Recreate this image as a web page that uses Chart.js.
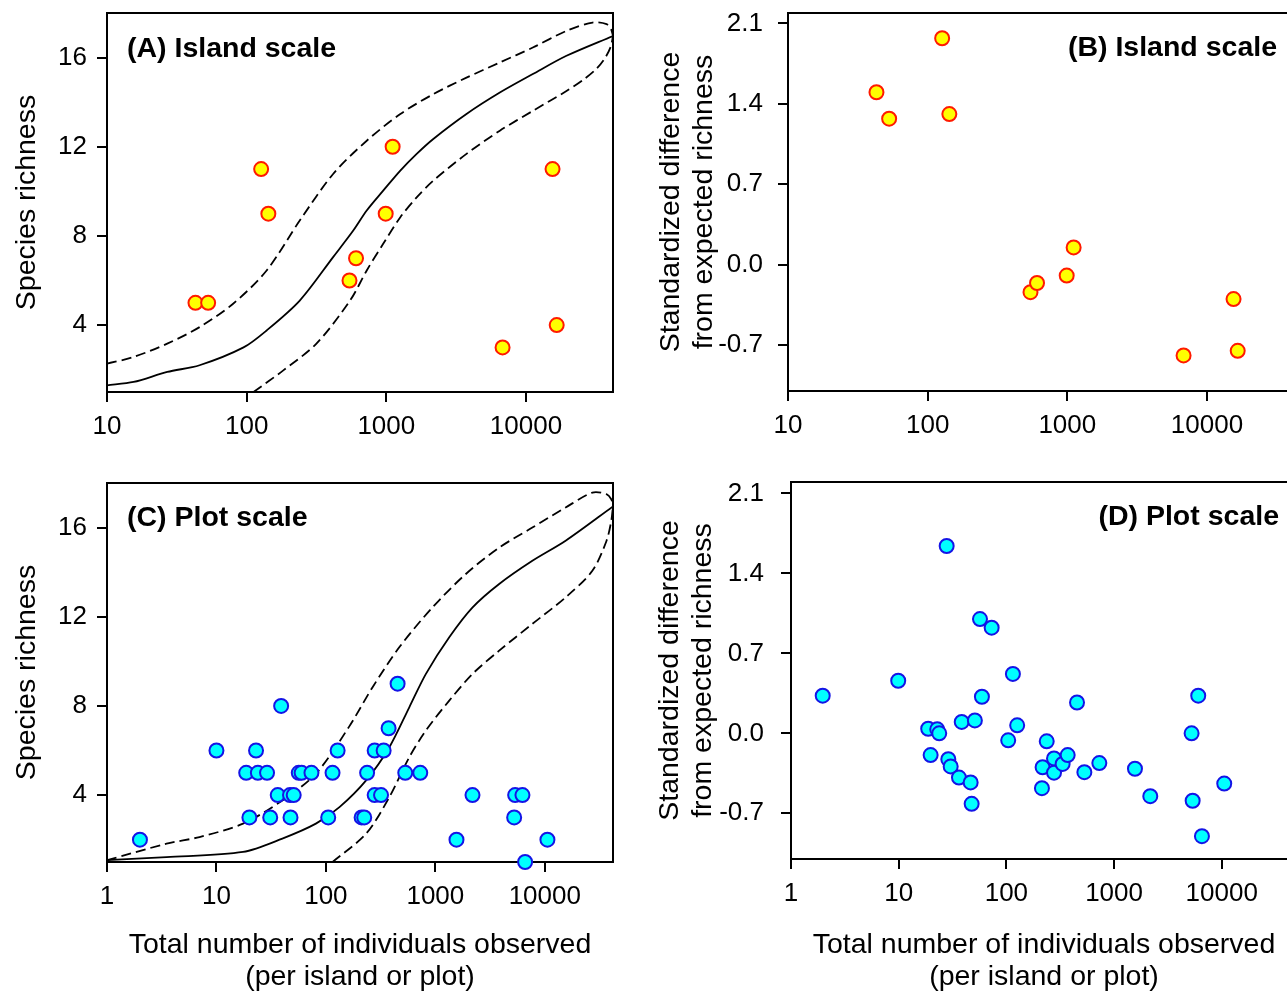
<!DOCTYPE html>
<html>
<head>
<meta charset="utf-8">
<script src="https://cdn.jsdelivr.net/npm/chart.js@4.4.1/dist/chart.umd.min.js"></script>
<style>
  html, body { margin: 0; padding: 0; background: #fff; overflow: hidden; width: 1287px; height: 994px; }
  canvas { position: absolute; }
</style>
</head>
<body>
<canvas id="chart-a" width="640" height="470" style="left:0;top:0"></canvas>
<canvas id="chart-b" width="700" height="470" style="left:640px;top:0"></canvas>
<canvas id="chart-c" width="640" height="524" style="left:0;top:470px"></canvas>
<canvas id="chart-d" width="700" height="524" style="left:640px;top:470px"></canvas>
<script>
// Island scale observations (panels A and B)
const islandN = [43, 53, 127, 143, 545, 607, 990, 1110, 6800, 15500, 16600];
const islandRichness = [5, 5, 11, 9, 6, 7, 9, 12, 3, 11, 4];
const islandStdDiff = [1.5, 1.27, 1.97, 1.31, -0.24, -0.16, -0.095, 0.15, -0.79, -0.3, -0.75];

// Island scale rarefaction curve and 95% limits
const islandCurveN = [10, 15.5, 27, 46, 95, 139, 240, 416, 580, 724, 950, 1260, 1650, 2170, 3750, 6500, 11200, 19500, 42000];
const islandCurve = [1.3, 1.45, 1.9, 2.2, 3.0, 3.76, 5.1, 7.05, 8.24, 9.14, 10.03, 10.93, 11.68, 12.35, 13.47, 14.43, 15.26, 16.08, 16.97];
const islandUpperN = [10, 15.5, 27, 46, 80, 139, 240, 416, 724, 1260, 2170, 3750, 6500, 11200, 19500, 30000, 37800, 40700, 42000];
const islandUpper = [2.27, 2.57, 3.17, 3.91, 4.96, 6.45, 8.69, 10.78, 12.27, 13.47, 14.36, 15.1, 15.78, 16.45, 17.2, 17.57, 17.5, 17.27, 16.97];
const islandLowerN = [112, 183, 316, 550, 724, 950, 1260, 1650, 2170, 3750, 6500, 11200, 19500, 25700, 32000, 37000, 40500, 42000];
const islandLower = [1.0, 1.97, 3.17, 5.1, 6.45, 7.65, 8.84, 9.73, 10.48, 11.68, 12.72, 13.61, 14.5, 15.0, 15.5, 16.0, 16.5, 16.97];

// Plot scale observations (panel C)
const plotN = [2, 10, 18.7, 20, 23, 23.9, 29, 31, 36.3, 39, 47, 47.5, 50.8, 56.5, 60, 73.8, 105, 115, 128, 212, 224, 238, 279, 279, 319, 337, 374, 452, 531, 728, 1560, 2185, 5250, 5360, 6250, 6610, 10570];
const plotRichness = [2, 6, 5, 3, 6, 5, 5, 3, 4, 8, 4, 3, 4, 5, 5, 5, 3, 5, 6, 3, 3, 5, 6, 4, 4, 6, 7, 9, 5, 5, 2, 4, 3, 4, 4, 1, 2];

// Plot scale standardized differences (panel D)
const plotDiffN = [1.97, 9.9, 18.8, 19.8, 22.8, 23.8, 27.9, 28.9, 30.4, 36.3, 38.5, 46.6, 47.6, 51, 56.9, 59.3, 73, 104, 115, 126, 214, 217, 237, 277, 277, 333, 371, 453, 530, 730, 1564, 2170, 5250, 5370, 6050, 6550, 10550];
const plotStdDiff = [0.33, 0.46, 0.04, -0.19, 0.035, 0.0, 1.64, -0.227, -0.29, -0.387, 0.1, -0.43, -0.617, 0.113, 1.0, 0.32, 0.925, -0.061, 0.52, 0.07, -0.48, -0.297, -0.07, -0.22, -0.344, -0.268, -0.19, 0.27, -0.34, -0.26, -0.31, -0.55, 0.0, -0.59, 0.33, -0.9, -0.44];

// Plot scale rarefaction curve and 95% limits
const plotCurveN = [1, 3.5, 17.5, 40, 81, 133, 233, 380, 578, 820, 1340, 2190, 3830, 7700, 15500, 42000];
const plotCurve = [1.08, 1.22, 1.45, 2.05, 2.72, 3.46, 4.66, 6.15, 7.94, 9.44, 11.08, 12.42, 13.47, 14.51, 15.41, 16.95];
const plotUpperN = [1, 3.5, 7, 17.5, 40, 81, 162, 267, 468, 942, 1900, 3830, 7700, 15500, 27200, 36600, 40500, 42000];
const plotUpper = [1.08, 1.82, 2.12, 2.72, 3.76, 4.96, 7.05, 8.84, 10.63, 12.42, 13.92, 15.1, 16.0, 16.9, 17.57, 17.5, 17.27, 16.97];
const plotLowerN = [115, 233, 380, 578, 820, 1340, 2190, 3830, 7700, 15500, 27200, 36600, 40500, 42000];
const plotLower = [1.0, 2.27, 3.91, 5.7, 6.9, 8.24, 9.44, 10.48, 11.68, 12.87, 14.06, 15.4, 16.3, 16.97];

// Tick labels
const richnessTicks = [4, 8, 12, 16];
const diffTicks = [-0.7, 0.0, 0.7, 1.4, 2.1];
const islandXTicks = [10, 100, 1000, 10000];
const plotXTicks = [1, 10, 100, 1000, 10000];

const FONT = "'Liberation Sans', Arial, Helvetica, sans-serif";
Chart.defaults.font.family = FONT;
Chart.defaults.color = '#000';

function pairs(xs, ys) {
    return xs.map((x, i) => ({ x: x, y: ys[i] }));
}

function curve(xs, ys, dashed) {
    return {
        data: pairs(xs, ys),
        showLine: true,
        pointRadius: 0,
        borderColor: '#000',
        borderWidth: 1.8,
        borderDash: dashed ? [10, 5] : [],
        tension: 0.3,
        fill: false
    };
}

function dots(xs, ys, fillColor, edgeColor) {
    return {
        data: pairs(xs, ys),
        showLine: false,
        pointRadius: 7,
        pointBackgroundColor: fillColor,
        pointBorderColor: edgeColor,
        pointBorderWidth: 2,
        clip: false
    };
}

// keep the plotting area exactly where the layout paddings put it
function noPad(s) {
    s.paddingTop = 0;
    s.paddingBottom = 0;
    s.paddingLeft = 0;
    s.paddingRight = 0;
}

// frame around the plotting area and the panel letter
function framePlugin(label, lx, ly, align) {
    return {
        id: 'frame',
        beforeDatasetsDraw(chart) {
            const a = chart.chartArea;
            const ctx = chart.ctx;
            ctx.save();
            ctx.strokeStyle = '#000';
            ctx.lineWidth = 2;
            ctx.strokeRect(a.left, a.top, a.right - a.left, a.bottom - a.top);
            ctx.restore();
        },
        afterDraw(chart) {
            const ctx = chart.ctx;
            ctx.save();
            ctx.font = 'bold 28.5px ' + FONT;
            ctx.fillStyle = '#000';
            ctx.textAlign = align;
            ctx.textBaseline = 'middle';
            ctx.fillText(label, lx, ly);
            ctx.restore();
        }
    };
}

function makeChart(id, o) {
    const tickFont = { size: 26 };
    const titleFont = { size: 28.5, lineHeight: 1.15 };
    return new Chart(document.getElementById(id), {
        type: 'scatter',
        data: { datasets: o.datasets },
        options: {
            responsive: false,
            animation: false,
            layout: { padding: o.padding },
            plugins: { legend: { display: false }, tooltip: { enabled: false } },
            scales: {
                x: {
                    type: 'logarithmic',
                    min: o.xMin,
                    max: o.xMax,
                    afterFit: s => { s.height = o.xHeight; noPad(s); },
                    afterBuildTicks: s => { s.ticks = o.xTicks.map(v => ({ value: v })); },
                    ticks: { font: tickFont, padding: 9, maxRotation: 0, autoSkip: false, callback: v => String(v) },
                    grid: { drawOnChartArea: false, tickLength: 10, color: '#000', lineWidth: 2 },
                    border: { color: '#000', width: 2 },
                    title: {
                        display: !!o.xTitle,
                        text: o.xTitle || '',
                        font: titleFont,
                        padding: { top: 0, bottom: 0 }
                    }
                },
                y: {
                    type: 'linear',
                    min: o.yMin,
                    max: o.yMax,
                    afterFit: s => { s.width = o.yWidth; noPad(s); },
                    afterBuildTicks: s => { s.ticks = o.yTicks.map(v => ({ value: v })); },
                    ticks: { font: tickFont, padding: o.yPad, callback: o.yFormat },
                    grid: { drawOnChartArea: false, tickLength: 10, color: '#000', lineWidth: 2 },
                    border: { color: '#000', width: 2 },
                    title: {
                        display: true,
                        text: o.yTitle,
                        font: titleFont,
                        padding: { top: o.yTitlePad, bottom: 0 }
                    }
                }
            }
        },
        plugins: [framePlugin(o.label, o.labelX, o.labelY, o.labelAlign)]
    });
}

const xTitle = ['Total number of individuals observed', '(per island or plot)'];
const diffTitle = ['Standardized difference', 'from expected richness'];

// (A) island scale richness
makeChart('chart-a', {
    datasets: [
        dots(islandN, islandRichness, '#ffff00', '#ff1a00'),
        curve(islandCurveN, islandCurve, false),
        curve(islandUpperN, islandUpper, true),
        curve(islandLowerN, islandLower, true)
    ],
    padding: { left: 0, top: 13, right: 27, bottom: 0 },
    xMin: 10, xMax: 42000, xTicks: islandXTicks, xHeight: 78,
    yMin: 1, yMax: 18, yTicks: richnessTicks, yWidth: 107, yPad: 10,
    yFormat: v => String(v), yTitle: 'Species richness', yTitlePad: 11,
    label: '(A) Island scale', labelX: 127, labelY: 49, labelAlign: 'left'
});

// (B) island scale standardized difference
makeChart('chart-b', {
    datasets: [dots(islandN, islandStdDiff, '#ffff00', '#ff1a00')],
    padding: { left: 0, top: 13, right: 46, bottom: 0 },
    xMin: 10, xMax: 42000, xTicks: islandXTicks, xHeight: 79,
    yMin: -1.1, yMax: 2.19, yTicks: diffTicks, yWidth: 148, yPad: 15,
    yFormat: v => v.toFixed(1), yTitle: diffTitle, yTitlePad: 14.5,
    label: '(B) Island scale', labelX: 637, labelY: 48, labelAlign: 'right'
});

// (C) plot scale richness
makeChart('chart-c', {
    datasets: [
        dots(plotN, plotRichness, '#00ffff', '#1414e6'),
        curve(plotCurveN, plotCurve, false),
        curve(plotUpperN, plotUpper, true),
        curve(plotLowerN, plotLower, true)
    ],
    padding: { left: 0, top: 13, right: 27, bottom: 0 },
    xMin: 1, xMax: 42000, xTicks: plotXTicks, xHeight: 132, xTitle: xTitle,
    yMin: 1, yMax: 18, yTicks: richnessTicks, yWidth: 107, yPad: 10,
    yFormat: v => String(v), yTitle: 'Species richness', yTitlePad: 11,
    label: '(C) Plot scale', labelX: 127, labelY: 48, labelAlign: 'left'
});

// (D) plot scale standardized difference
makeChart('chart-d', {
    datasets: [dots(plotDiffN, plotStdDiff, '#00ffff', '#1414e6')],
    padding: { left: 0, top: 12, right: 43, bottom: 0 },
    xMin: 1, xMax: 50000, xTicks: plotXTicks, xHeight: 135, xTitle: xTitle,
    yMin: -1.1, yMax: 2.2, yTicks: diffTicks, yWidth: 151, yPad: 17,
    yFormat: v => v.toFixed(1), yTitle: diffTitle, yTitlePad: 14,
    label: '(D) Plot scale', labelX: 639, labelY: 47, labelAlign: 'right'
});
</script>
</body>
</html>
